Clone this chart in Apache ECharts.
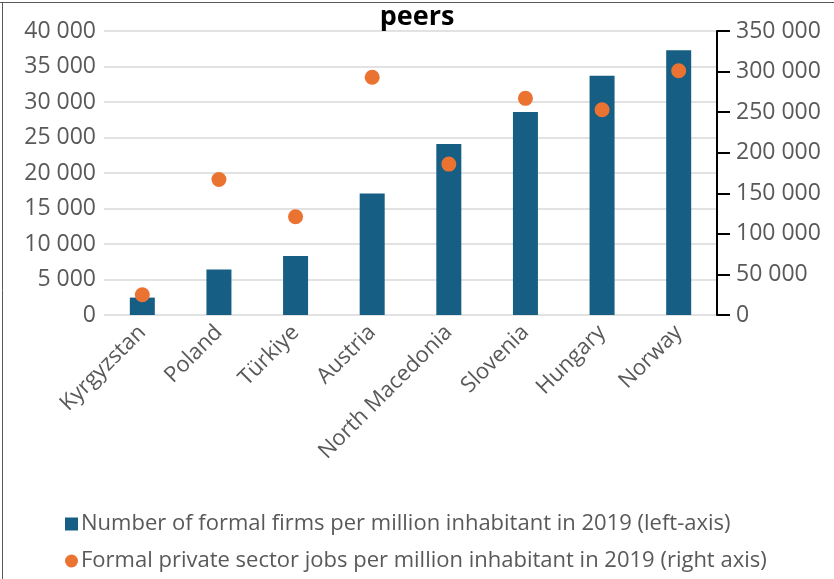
<!DOCTYPE html>
<html>
<head>
<meta charset="utf-8">
<script src="https://cdn.jsdelivr.net/npm/echarts@6/dist/echarts.min.js"></script>
<style>
  html, body { margin: 0; padding: 0; background: #fff; }
  #chart { width: 834px; height: 579px; }
</style>
</head>
<body>
<div id="chart"></div>
<script>
// Countries on the x axis
const countries = ['Kyrgyzstan', 'Poland', 'Türkiye', 'Austria', 'North Macedonia', 'Slovenia', 'Hungary', 'Norway'];
// Formal firms per million inhabitants, 2019 (left axis)
const firmsPerMillion = [2450, 6400, 8300, 17100, 24100, 28600, 33700, 37300];
// Formal private sector jobs per million inhabitants, 2019 (right axis)
const jobsPerMillion = [25000, 167000, 121000, 293000, 186000, 267000, 253000, 301000];
// Series names shown in the legend
const firmsName = 'Number of formal firms per million inhabitant in 2019 (left-axis)';
const jobsName = 'Formal private sector jobs per million inhabitant in 2019 (right axis)';

const FONT = '"Open Sans", "Noto Sans", sans-serif';
const spaced = v => String(v).replace(/\B(?=(\d{3})+(?!\d))/g, ' ');

const chart = echarts.init(document.getElementById('chart'), null, { renderer: 'canvas' });
chart.setOption({
  backgroundColor: '#ffffff',
  animation: false,
  textStyle: { fontFamily: FONT },
  title: {
    text: 'peers',
    left: 'center',
    top: -1,
    textStyle: { fontFamily: FONT, fontSize: 27, fontWeight: 'bold', color: '#000' }
  },
  graphic: [
    { type: 'line', shape: { x1: 0, y1: 2.5, x2: 834, y2: 2.5 }, style: { stroke: '#595959', lineWidth: 1 } },
    { type: 'line', shape: { x1: 2.5, y1: 2, x2: 2.5, y2: 579 }, style: { stroke: '#595959', lineWidth: 1 } }
  ],
  grid: { left: 104, right: 117, top: 31, bottom: 264, containLabel: false },
  legend: {
    orient: 'vertical',
    left: 60,
    top: 508,
    itemWidth: 13,
    itemHeight: 13,
    itemGap: 15,
    textStyle: { fontFamily: FONT, fontSize: 22, color: '#595959', padding: [0, 0, 0, -2] },
    data: [
      { name: firmsName, icon: 'rect' },
      { name: jobsName, icon: 'circle' }
    ]
  },
  xAxis: {
    type: 'category',
    data: countries,
    axisLine: { show: false },
    axisTick: { show: false },
    axisLabel: { rotate: 45, margin: 14, fontFamily: FONT, fontSize: 22, color: '#595959', interval: 0 }
  },
  yAxis: [
    {
      type: 'value',
      min: 0, max: 40000, interval: 5000,
      axisLine: { show: false },
      axisTick: { show: false },
      splitLine: { show: true, lineStyle: { color: '#d9d9d9', width: 1.5 } },
      axisLabel: { margin: 8, fontFamily: FONT, fontSize: 23, color: '#595959', formatter: spaced }
    },
    {
      type: 'value',
      min: 0, max: 350000, interval: 50000,
      position: 'right',
      axisLine: { show: true, lineStyle: { color: '#000', width: 2 } },
      axisTick: { show: true, length: 13, lineStyle: { color: '#000', width: 2 } },
      splitLine: { show: false },
      axisLabel: { margin: 19, fontFamily: FONT, fontSize: 23, color: '#595959', formatter: spaced }
    }
  ],
  series: [
    {
      name: firmsName,
      type: 'bar',
      yAxisIndex: 0,
      barWidth: 25,
      itemStyle: { color: '#165e83' },
      data: firmsPerMillion
    },
    {
      name: jobsName,
      type: 'scatter',
      yAxisIndex: 1,
      symbol: 'circle',
      symbolSize: 15,
      itemStyle: { color: '#eb7332', opacity: 1 },
      data: jobsPerMillion
    }
  ]
});
</script>
</body>
</html>
